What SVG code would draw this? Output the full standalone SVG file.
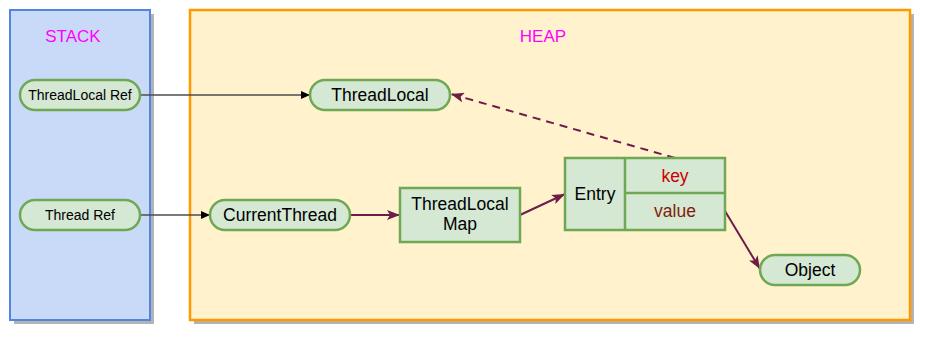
<svg xmlns="http://www.w3.org/2000/svg" width="930" height="340" viewBox="0 0 930 340">
  <style>
    text { font-family: "Liberation Sans", Arial, Helvetica, sans-serif; text-anchor: middle; fill: #000; }
    .title { font-size: 17px; fill: #ff00ff; }
    .small { font-size: 14px; }
    .big { font-size: 17.5px; }
    .node { fill: #d5e8d4; stroke: #6fa852; stroke-width: 2.5; }
    .shadow { fill: #b3b3b3; }
    .ref { fill: none; stroke: #4d4d4d; stroke-width: 1.3; }
    .link { fill: none; stroke: #6d1d48; stroke-width: 2; }
    .dashed { stroke-dasharray: 8 6; }
  </style>
  <defs>
    <marker id="headBlack" markerUnits="userSpaceOnUse" markerWidth="9" markerHeight="8" refX="9" refY="4" orient="auto">
      <path d="M0,0 L9,4 L0,8 Z" fill="#000"/>
    </marker>
    <marker id="headPurple" markerUnits="userSpaceOnUse" markerWidth="13" markerHeight="10" refX="13" refY="5" orient="auto">
      <path d="M0,0 L13,5 L0,10 L3,5 Z" fill="#6d1d48"/>
    </marker>
  </defs>

  <!-- stack area -->
  <g id="stack">
    <rect class="shadow" x="14" y="14" width="140" height="310"/>
    <rect x="10" y="10" width="140" height="310" fill="#c9daf8" stroke="#4f86e4" stroke-width="2"/>
    <text class="title" x="73" y="42">STACK</text>
  </g>

  <!-- heap area -->
  <g id="heap">
    <rect class="shadow" x="194" y="14" width="720" height="310"/>
    <rect x="190" y="10" width="720" height="310" fill="#fff2cc" stroke="#ff9900" stroke-width="2.5"/>
    <text class="title" x="543" y="42">HEAP</text>
  </g>

  <g id="connectors">
    <line class="ref" x1="140" y1="95" x2="310" y2="95" marker-end="url(#headBlack)"/>
    <line class="ref" x1="140" y1="215" x2="210" y2="215" marker-end="url(#headBlack)"/>
    <line class="link" x1="350" y1="215" x2="400" y2="215" marker-end="url(#headPurple)"/>
    <line class="link" x1="520" y1="215" x2="565" y2="194" marker-end="url(#headPurple)"/>
    <line class="link dashed" x1="675" y1="158" x2="451" y2="94" marker-end="url(#headPurple)"/>
    <line class="link" x1="725" y1="211" x2="760" y2="269" marker-end="url(#headPurple)"/>
  </g>

  <g id="threadLocalRef">
    <rect class="node" x="20" y="80" width="120" height="30" rx="15"/>
    <text class="small" x="80" y="100">ThreadLocal Ref</text>
  </g>

  <g id="threadRef">
    <rect class="node" x="20" y="200" width="120" height="30" rx="15"/>
    <text class="small" x="80" y="220">Thread Ref</text>
  </g>

  <g id="threadLocal">
    <rect class="node" x="310" y="80" width="140" height="30" rx="15"/>
    <text class="big" x="380" y="101">ThreadLocal</text>
  </g>

  <g id="currentThread">
    <rect class="node" x="210" y="200" width="140" height="30" rx="15"/>
    <text class="big" x="280" y="221">CurrentThread</text>
  </g>

  <g id="threadLocalMap">
    <rect class="node" x="400" y="188" width="120" height="54"/>
    <text class="big" x="460" y="210">ThreadLocal</text>
    <text class="big" x="460" y="230">Map</text>
  </g>

  <g id="entry">
    <rect class="node" x="565" y="158" width="160" height="72"/>
    <line x1="625" y1="158" x2="625" y2="230" stroke="#6fa852" stroke-width="2.5"/>
    <line x1="625" y1="193" x2="725" y2="193" stroke="#6fa852" stroke-width="2.5"/>
    <text class="big" x="595" y="200">Entry</text>
    <text class="big" x="675" y="182" style="fill:#cc0000">key</text>
    <text class="big" x="675" y="217" style="fill:#7f1d0a">value</text>
  </g>

  <g id="object">
    <rect class="node" x="760" y="255" width="100" height="30" rx="15"/>
    <text class="big" x="810" y="276">Object</text>
  </g>
</svg>
